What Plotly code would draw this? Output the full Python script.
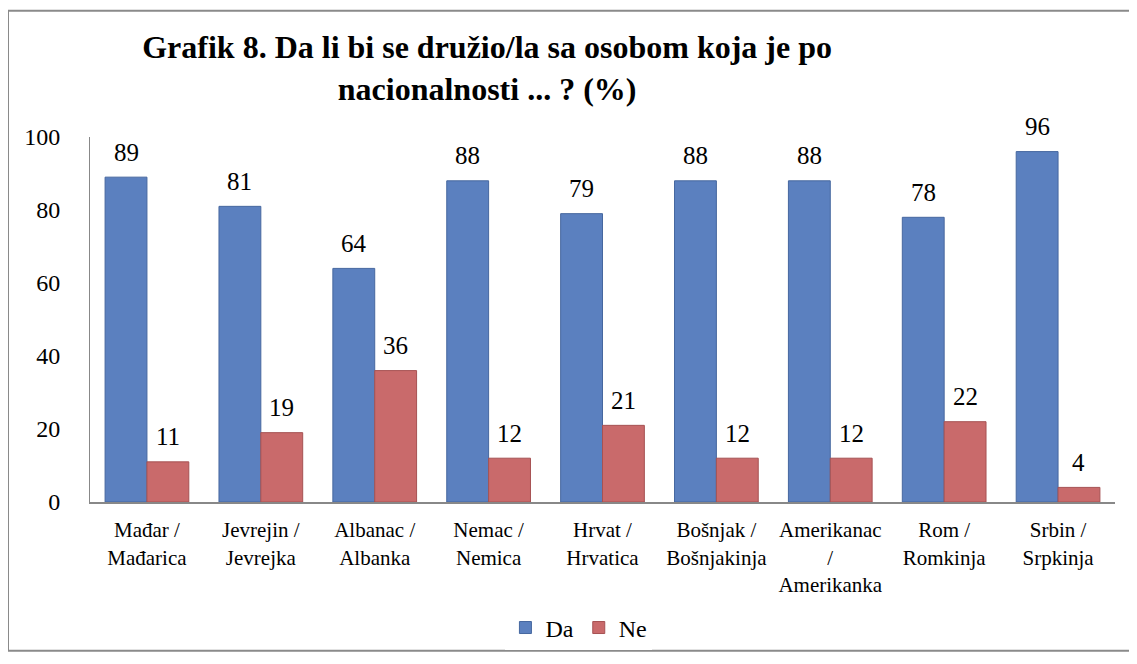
import plotly.graph_objects as go

categories = ["Mađar /<br>Mađarica", "Jevrejin /<br>Jevrejka", "Albanac /<br>Albanka",
              "Nemac /<br>Nemica", "Hrvat /<br>Hrvatica", "Bošnjak /<br>Bošnjakinja",
              "Amerikanac<br>/<br>Amerikanka", "Rom /<br>Romkinja", "Srbin /<br>Srpkinja"]
da = [89, 81, 64, 88, 79, 88, 88, 78, 96]
ne = [11, 19, 36, 12, 21, 12, 12, 22, 4]
y_ticks = [0, 20, 40, 60, 80, 100]

FONT = "Liberation Serif"
W, H = 1122, 654
L, R, T, B = 82, 15, 129, 152
plot_w = W - L - R
plot_h = H - T - B
group_w = plot_w / len(categories)
bargap = 0.265
bar_w = group_w * (1 - bargap) / 2

fig = go.Figure()
fig.add_trace(go.Bar(name="Da", x=categories, y=da,
                     marker=dict(color="#5B80BF", line=dict(color="#46679f", width=1))))
fig.add_trace(go.Bar(name="Ne", x=categories, y=ne,
                     marker=dict(color="#C96A6B", line=dict(color="#a65253", width=1))))

for series, shift in ((da, -bar_w / 2), (ne, bar_w / 2)):
    for c, v in zip(categories, series):
        fig.add_annotation(x=c, y=v, xref="x", yref="y", text=str(v), showarrow=False,
                           xshift=shift, yshift=25, yanchor="middle",
                           font=dict(family=FONT, size=25, color="black"))

fig.update_layout(
    width=W, height=H,
    barmode="group", bargap=bargap, bargroupgap=0,
    paper_bgcolor="white", plot_bgcolor="white",
    margin=dict(l=L, r=R, t=T, b=B),
    font=dict(family=FONT, size=20, color="black"),
    title=dict(text="<b>Grafik 8. Da li bi se družio/la sa osobom koja je po<br>nacionalnosti ... ? (%)</b>",
               x=0.427, xanchor="center", y=0.9235, yanchor="top",
               font=dict(family=FONT, size=32, color="black")),
    showlegend=True,
    legend=dict(orientation="h", x=0.477, xanchor="center", y=-0.345, yanchor="middle",
                font=dict(family=FONT, size=24, color="black"),
                itemwidth=30, traceorder="normal"),
)
fig.update_yaxes(range=[0, 100], tickvals=y_ticks, showgrid=False,
                 showline=True, linecolor="#888888", linewidth=1, ticks="",
                 tickfont=dict(family=FONT, size=24, color="black"), ticklabelstandoff=24)
fig.update_xaxes(showline=True, linecolor="#888888", linewidth=2, ticks="",
                 tickfont=dict(family=FONT, size=21, color="black"), tickangle=0,
                 ticklabelstandoff=8)

fig.add_shape(type="rect", xref="paper", yref="paper",
              x0=-L / plot_w, x1=1 + R / plot_w,
              y0=-B / plot_h, y1=1 + T / plot_h,
              line=dict(color="#8a8a8a", width=2), fillcolor="rgba(0,0,0,0)", layer="below")

fig.write_html("out.html")
